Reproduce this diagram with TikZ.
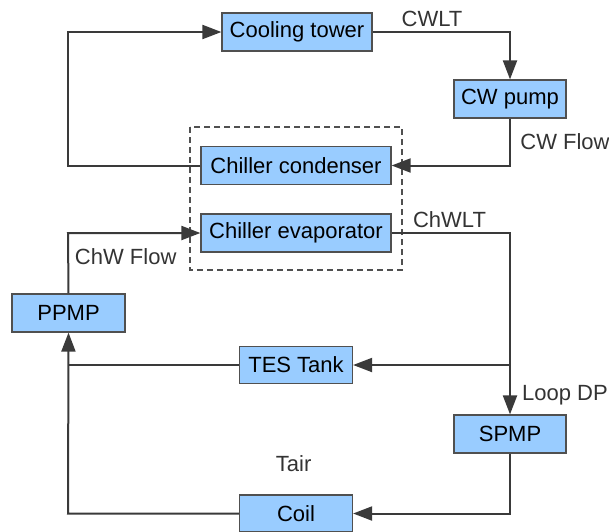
\documentclass[tikz,border=0pt]{standalone}
\usepackage{fontspec}
\setmainfont{Liberation Sans}
\usetikzlibrary{arrows.meta}
\definecolor{boxfill}{HTML}{99CCFF}
\definecolor{boxline}{HTML}{505050}
\definecolor{wire}{HTML}{3A3A3A}
\definecolor{lbl}{HTML}{333333}
\tikzset{
  comp/.style={draw=boxline, line width=1.2pt, fill=boxfill, inner sep=0pt,
    minimum height=38pt, font=\fontsize{22}{22}\selectfont, text=black},
  wirel/.style={draw=wire, line width=2pt},
  arr/.style={wirel, -{Triangle[length=19pt,width=14pt]}},
  tag/.style={font=\fontsize{22}{22}\selectfont, text=lbl, inner sep=0pt},
}
\begin{document}
\begin{tikzpicture}[x=1pt,y=-1pt]
\useasboundingbox (0,0) rectangle (609,531);
\draw[draw=boxline, line width=1.2pt, dash pattern=on 6pt off 4pt] (190,127) rectangle (402,270);
\node[comp, minimum width=150pt] (tower) at (297,32) {Cooling tower};
\node[comp, minimum width=112pt] (cwp) at (510,99) {CW pump};
\node[comp, minimum width=190pt] (cond) at (296,165.5) {Chiller condenser};
\node[comp, minimum width=190pt] (evap) at (296,233) {Chiller evaporator};
\node[comp, minimum width=113pt] (ppmp) at (68.5,313) {PPMP};
\node[comp, minimum width=113pt, minimum height=37pt] (tes) at (296,365) {TES Tank};
\node[comp, minimum width=112pt] (spmp) at (510,434) {SPMP};
\node[comp, minimum width=113pt, minimum height=37pt] (coil) at (296,513.5) {Coil};
\coordinate (lt) at (68,32);
\coordinate (lc) at (68,165.5);
\coordinate (rt) at (510,32);
\coordinate (rc) at (510,165.5);
\coordinate (re) at (510,233);
\coordinate (rj) at (510,365);
\coordinate (lj) at (68,365);
\coordinate (rb) at (510,513.5);
\coordinate (lb) at (68,513.5);
\coordinate (le) at (68,233);
\draw[arr] (cond.west) -- (lc) -- (lt) -- (tower.west);
\draw[arr] (tower.east) -- (rt) -- (cwp.north);
\draw[arr] (cwp.south) -- (rc) -- (cond.east);
\draw[arr] (evap.east) -- (re) -- (spmp.north);
\draw[arr] (rj) -- (tes.east);
\draw[wirel] (tes.west) -- (lj);
\draw[arr] (spmp.south) -- (rb) -- (coil.east);
\draw[arr] (coil.west) -- (lb) -- (ppmp.south);
\draw[arr] (ppmp.north) -- (le) -- (evap.west);
\node[tag] (cwlt) at (432,18.5) {CWLT};
\node[tag] (cwflow) at (565,141.5) {CW Flow};
\node[tag] (chwlt) at (449.5,220) {ChWLT};
\node[tag] (chwflow) at (125.7,257) {ChW Flow};
\node[tag] (loopdp) at (565,395) {Loop DP};
\node[tag] (tair) at (293.6,464) {Tair};
\end{tikzpicture}
\end{document}
